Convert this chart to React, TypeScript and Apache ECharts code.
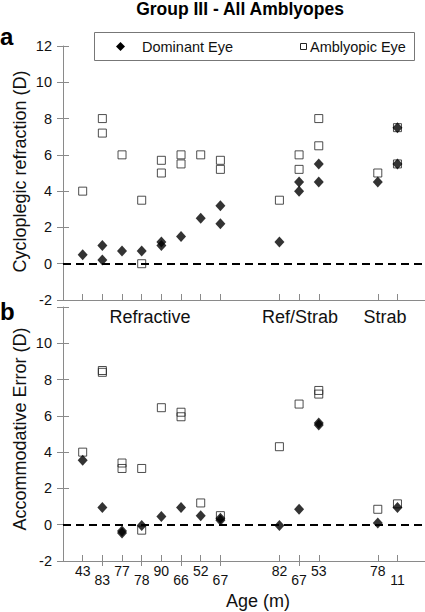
import React, { useEffect, useRef } from "react";
import * as echarts from "echarts";

// ---- data ----
const positions = [1, 2, 3, 4, 5, 6, 7, 8, 11, 12, 13, 16, 17];
const ageLabels = ["43", "83", "77", "78", "90", "66", "52", "67", "82", "67", "53", "78", "11"];
const labelRow = ["up", "down", "up", "down", "up", "down", "up", "down", "up", "down", "up", "up", "down"];
const lowerCrossTicks = [2, 4, 6, 8, 12];

const cycloDominant = [[0.5], [1.0, 0.2], [0.7], [0.7], [1.2, 1.0], [1.5], [2.5], [3.2, 2.2], [1.2], [4.5, 4.0], [5.5, 4.5], [4.5], [7.5, 5.5]];
const cycloAmblyopic = [[4.0], [8.0, 7.2], [6.0], [3.5, 0.0], [5.7, 5.0], [6.0, 5.5], [6.0], [5.7, 5.2], [3.5], [6.0, 5.2], [8.0, 6.5], [5.0], [7.5, 5.5]];
const accomDominant = [[3.55], [0.95], [-0.35, -0.45], [-0.05], [0.45], [0.95], [0.5], [0.35, 0.25], [-0.05], [0.85], [5.5, 5.6], [0.1], [0.95]];
const accomAmblyopic = [[4.0], [8.4, 8.5], [3.4, 3.1], [3.1, -0.3], [6.45], [6.2, 5.95], [1.2], [0.5], [4.3], [6.65], [7.4, 7.2], [0.85], [1.15]];

const yTicks = [-2, 12, 2]; // min, max, interval
const groupLabels = ["Refractive", "Ref/Strab", "Strab"];

const FONT = "'Liberation Sans', Arial, sans-serif";
const AXIS_GRAY = "#8a8a8a";

function toPoints(vals: number[][]) {
  const out: number[][] = [];
  vals.forEach((arr, i) => arr.forEach((v) => out.push([positions[i], v])));
  return out;
}

export default function App() {
  const ref = useRef<HTMLDivElement>(null);
  useEffect(() => {
    if (!ref.current) return;
    const chart = echarts.init(ref.current, null, { renderer: "svg" });
    const upperPos = positions.filter((_, i) => labelRow[i] === "up");
    const lowerPos = positions.filter((_, i) => labelRow[i] === "down");
    const fmtAge = (v: number) => {
      const i = positions.indexOf(Math.round(v));
      return i >= 0 ? ageLabels[i] : "";
    };
    const xBase = {
      type: "value",
      min: 0,
      max: 18.4,
      splitLine: { show: false },
    };
    const mkX = (grid: number, extra: any) => ({ ...xBase, gridIndex: grid, position: "bottom", ...extra });
    const yMain = (grid: number, hide12: boolean) => ({
      type: "value",
      gridIndex: grid,
      position: "left",
      min: yTicks[0],
      max: yTicks[1],
      interval: yTicks[2],
      splitLine: { show: false },
      axisLine: { show: true, onZero: false, lineStyle: { color: AXIS_GRAY, width: 1 } },
      axisTick: { show: true, inside: false, length: 6, lineStyle: { color: AXIS_GRAY } },
      axisLabel: {
        margin: 11,
        fontSize: 14.5,
        color: "#111",
        fontFamily: FONT,
        formatter: (v: number) => (hide12 && v === 12 ? "" : String(v)),
      },
    });
    const ySec = (grid: number) => ({
      type: "value",
      gridIndex: grid,
      position: "left",
      min: yTicks[0],
      max: yTicks[1],
      interval: yTicks[2],
      splitLine: { show: false },
      axisLine: { show: false, onZero: false },
      axisTick: { show: true, inside: true, length: 6, lineStyle: { color: AXIS_GRAY } },
      axisLabel: { show: false },
    });
    const zeroLine = {
      silent: true,
      symbol: ["none", "none"],
      label: { show: false },
      lineStyle: { type: [8, 5], color: "#000", width: 2 },
      data: [{ yAxis: 0 }],
    };
    const squareStyle = { color: "rgba(0,0,0,0)", borderColor: "#222", borderWidth: 1 };
    const diamondStyle = { color: "#000" };

    const option: any = {
      animation: false,
      grid: [
        { left: 63, top: 46, width: 362, height: 254 },
        { left: 63, top: 307, width: 362, height: 254 },
      ],
      xAxis: [
        mkX(0, {
          axisLine: { show: true, onZero: false, lineStyle: { color: AXIS_GRAY } },
          axisTick: { show: true, inside: true, length: 6, customValues: positions, lineStyle: { color: AXIS_GRAY } },
          axisLabel: { show: false },
        }),
        mkX(1, {
          axisLine: { show: true, onZero: false, lineStyle: { color: AXIS_GRAY } },
          axisTick: { show: true, inside: true, length: 6, customValues: positions, lineStyle: { color: AXIS_GRAY } },
          axisLabel: { show: true, customValues: upperPos, margin: 3, fontSize: 14, color: "#111", fontFamily: FONT, formatter: fmtAge },
        }),
        mkX(1, {
          axisLine: { show: false, onZero: false },
          axisTick: { show: true, inside: false, length: 5, customValues: lowerCrossTicks, lineStyle: { color: AXIS_GRAY } },
          axisLabel: { show: true, customValues: lowerPos, margin: 12, fontSize: 14, color: "#111", fontFamily: FONT, formatter: fmtAge },
        }),
      ],
      yAxis: [yMain(0, false), ySec(0), yMain(1, true), ySec(1)],
      series: [
        {
          type: "scatter", name: "Amblyopic Eye", xAxisIndex: 0, yAxisIndex: 0, silent: true,
          symbol: "rect", symbolSize: 8, itemStyle: squareStyle,
          data: toPoints(cycloAmblyopic), markLine: zeroLine, z: 2,
        },
        {
          type: "scatter", name: "Dominant Eye", xAxisIndex: 0, yAxisIndex: 0, silent: true,
          symbol: "diamond", symbolSize: [10, 11], itemStyle: diamondStyle,
          data: toPoints(cycloDominant), z: 3,
        },
        {
          type: "scatter", name: "Amblyopic Eye", xAxisIndex: 1, yAxisIndex: 2, silent: true,
          symbol: "rect", symbolSize: 8, itemStyle: squareStyle,
          data: toPoints(accomAmblyopic), markLine: zeroLine, z: 2,
        },
        {
          type: "scatter", name: "Dominant Eye", xAxisIndex: 1, yAxisIndex: 2, silent: true,
          symbol: "diamond", symbolSize: [10, 11], itemStyle: diamondStyle,
          data: toPoints(accomDominant), z: 3,
        },
      ],
      graphic: [
        { type: "text", x: 240, y: 8.5, style: { text: "Group III - All Amblyopes", font: `bold 17.5px ${FONT}`, fill: "#000", align: "center", verticalAlign: "middle" } },
        { type: "text", x: 0, y: 36, style: { text: "a", font: `bold 24px ${FONT}`, fill: "#000", align: "left", verticalAlign: "middle" } },
        { type: "text", x: 0, y: 311, style: { text: "b", font: `bold 24px ${FONT}`, fill: "#000", align: "left", verticalAlign: "middle" } },
        { type: "text", x: 20, y: 171.5, rotation: Math.PI / 2, style: { text: "Cycloplegic refraction (D)", font: `18px ${FONT}`, fill: "#111", align: "center", verticalAlign: "middle" } },
        { type: "text", x: 20, y: 429, rotation: Math.PI / 2, style: { text: "Accommodative Error (D)", font: `18px ${FONT}`, fill: "#111", align: "center", verticalAlign: "middle" } },
        { type: "text", x: 150, y: 317, style: { text: groupLabels[0], font: `18px ${FONT}`, fill: "#111", align: "center", verticalAlign: "middle" } },
        { type: "text", x: 300, y: 317, style: { text: groupLabels[1], font: `18px ${FONT}`, fill: "#111", align: "center", verticalAlign: "middle" } },
        { type: "text", x: 385, y: 317, style: { text: groupLabels[2], font: `18px ${FONT}`, fill: "#111", align: "center", verticalAlign: "middle" } },
        { type: "text", x: 258, y: 601, style: { text: "Age (m)", font: `18px ${FONT}`, fill: "#111", align: "center", verticalAlign: "middle" } },
        // legend box
        { type: "rect", shape: { x: 94.5, y: 32.5, width: 320, height: 28 }, style: { fill: "#fff", stroke: "#777", lineWidth: 1 }, z: 10 },
        { type: "polygon", shape: { points: [[120.5, 42], [125, 46.5], [120.5, 51], [116, 46.5]] }, style: { fill: "#000" }, z: 11 },
        { type: "text", x: 142, y: 46.5, style: { text: "Dominant Eye", font: `14.5px ${FONT}`, fill: "#111", align: "left", verticalAlign: "middle" }, z: 11 },
        { type: "rect", shape: { x: 300.5, y: 43.5, width: 6, height: 6 }, style: { fill: "none", stroke: "#222", lineWidth: 1 }, z: 11 },
        { type: "text", x: 310, y: 46.5, style: { text: "Amblyopic Eye", font: `14.5px ${FONT}`, fill: "#111", align: "left", verticalAlign: "middle" }, z: 11 },
      ],
    };
    chart.setOption(option);
    return () => chart.dispose();
  }, []);
  return (
    <div
      ref={ref}
      style={{ position: "absolute", left: 0, top: 0, width: 425, height: 612, background: "#fff" }}
    />
  );
}
